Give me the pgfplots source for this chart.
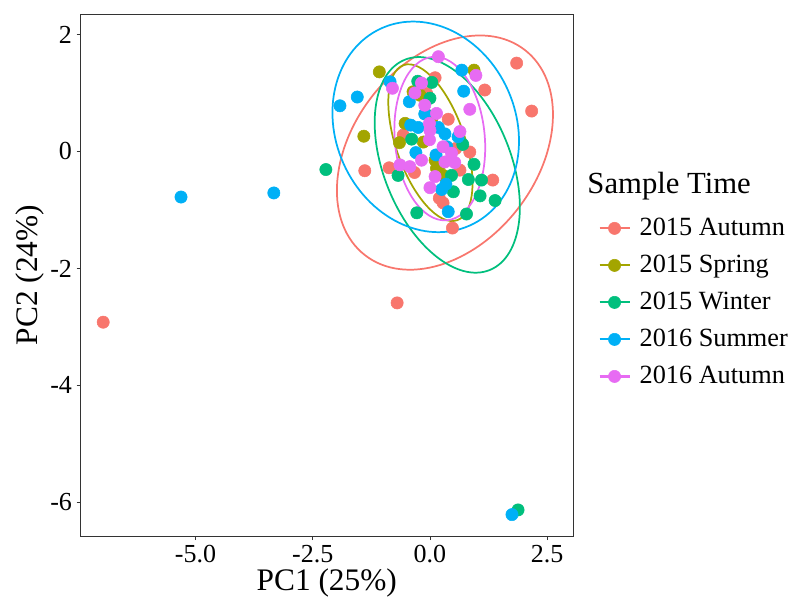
\documentclass[border=0pt]{standalone}
\usepackage{pgfplots}
\pgfplotsset{compat=1.18}
\usepackage{fontspec}
\setmainfont{Liberation Serif}
\definecolor{cA}{HTML}{F8766D}
\definecolor{cB}{HTML}{A3A500}
\definecolor{cC}{HTML}{00BF7D}
\definecolor{cD}{HTML}{00B0F6}
\definecolor{cE}{HTML}{E76BF3}
\begin{document}
\begin{tikzpicture}
\begin{axis}[
  scale only axis, width=369pt, height=391.5pt,
  xmin=-7.45, xmax=3.05, ymin=-6.58, ymax=2.35,
  xtick={-5,-2.5,0,2.5}, xticklabels={-5.0,-2.5,0.0,2.5},
  ytick={-6,-4,-2,0,2}, yticklabels={-6,-4,-2,0,2},
  tick label style={font=\fontsize{19.5}{22}\selectfont, black},
  tick align=outside, tick pos=left, major tick length=3pt,
  every tick/.style={black!80, line width=0.6pt},
  axis line style={black!80, line width=0.6pt},
  xlabel={PC1 (25\%)}, ylabel={PC2 (24\%)},
  label style={font=\fontsize{23.5}{26}\selectfont},
  xlabel style={yshift=2pt}, ylabel style={yshift=-2pt},
  legend style={at={(rel axis cs:1.0514,0.613)}, anchor=north west, draw=none, fill=none,
    inner sep=0pt, row sep=9.75pt, font=\fontsize{19.7}{22}\selectfont,
    nodes={inner sep=0pt, text height=14pt, text depth=4pt}},
  legend cell align=left,
  /tikz/every odd column/.append style={column sep=6.75pt},
]
\addplot[only marks, mark=*, mark size=4.6pt, color=cA, mark options={draw=none, fill=cA},
  legend image code/.code={\draw[cA, line width=1.6pt] (0pt,0pt) -- (22.5pt,0pt); \fill[cA] (11.25pt,0pt) circle (4.6pt);}]
table {
-6.97 -2.92
-0.70 -2.59
1.85 1.51
2.17 0.69
1.17 1.05
0.11 1.26
0.39 0.55
-0.57 0.28
-1.39 -0.33
-0.87 -0.28
-0.33 -0.36
0.85 -0.01
0.64 -0.32
1.34 -0.49
0.28 -0.88
0.48 -1.31
-0.07 0.99
0.20 -0.80
0.55 0.05
};
\addlegendentry{2015 Autumn}
\addplot[only marks, mark=*, mark size=4.6pt, color=cB, mark options={draw=none, fill=cB},
  legend image code/.code={\draw[cB, line width=1.6pt] (0pt,0pt) -- (22.5pt,0pt); \fill[cB] (11.25pt,0pt) circle (4.6pt);}]
table {
-1.08 1.36
0.94 1.39
-1.41 0.26
-0.65 0.15
-0.53 0.48
-0.21 0.96
-0.36 1.02
-0.14 0.16
0.11 -0.15
0.14 -0.29
0.28 -0.41
0.04 0.56
0.22 -0.22
};
\addlegendentry{2015 Spring}
\addplot[only marks, mark=*, mark size=4.6pt, color=cC, mark options={draw=none, fill=cC},
  legend image code/.code={\draw[cC, line width=1.6pt] (0pt,0pt) -- (22.5pt,0pt); \fill[cC] (11.25pt,0pt) circle (4.6pt);}]
table {
-2.22 -0.31
1.88 -6.13
-0.26 1.20
0.04 1.18
0.00 0.91
-0.39 0.21
0.70 0.12
0.94 -0.22
-0.68 -0.41
0.46 -0.41
0.82 -0.48
1.10 -0.49
0.50 -0.69
1.07 -0.76
1.39 -0.84
-0.28 -1.05
0.78 -1.07
-0.10 0.65
};
\addlegendentry{2015 Winter}
\addplot[only marks, mark=*, mark size=4.6pt, color=cD, mark options={draw=none, fill=cD},
  legend image code/.code={\draw[cD, line width=1.6pt] (0pt,0pt) -- (22.5pt,0pt); \fill[cD] (11.25pt,0pt) circle (4.6pt);}]
table {
-5.31 -0.78
-3.33 -0.71
1.75 -6.21
-1.92 0.78
-1.55 0.93
-0.85 1.19
0.68 1.39
0.72 1.03
-0.44 0.85
-0.11 0.64
-0.41 0.45
-0.25 0.41
0.18 0.41
0.32 0.30
0.60 0.25
-0.30 -0.02
0.13 -0.06
0.34 -0.56
0.25 -0.65
0.39 -1.03
0.36 0.08
};
\addlegendentry{2016 Summer}
\addplot[only marks, mark=*, mark size=4.6pt, color=cE, mark options={draw=none, fill=cE},
  legend image code/.code={\draw[cE, line width=1.6pt] (0pt,0pt) -- (22.5pt,0pt); \fill[cE] (11.25pt,0pt) circle (4.6pt);}]
table {
0.18 1.62
0.98 1.30
-0.80 1.08
-0.18 1.17
-0.32 1.00
-0.11 0.79
0.85 0.72
0.14 0.65
-0.01 0.48
0.00 0.36
-0.01 0.20
0.64 0.34
0.28 0.08
0.46 -0.03
0.32 -0.18
0.53 -0.19
-0.43 -0.26
-0.18 -0.15
0.11 -0.43
0.00 -0.62
-0.64 -0.23
};
\addlegendentry{2016 Autumn}
% 95% ellipses
\draw[cA, line width=1.3pt, rotate around={52:(axis cs:0.32,-0.02)}] (axis cs:0.32,-0.02) ellipse [x radius=97.5pt, y radius=69pt];
\draw[cB, line width=1.3pt, rotate around={-71:(axis cs:0.01,0.15)}] (axis cs:0.01,0.15) ellipse [x radius=61.5pt, y radius=25.8pt];
\draw[cC, line width=1.3pt, rotate around={-68:(axis cs:0.37,-0.23)}] (axis cs:0.37,-0.23) ellipse [x radius=85pt, y radius=47.6pt];
\draw[cD, line width=1.3pt, rotate around={114:(axis cs:-0.09,0.42)}] (axis cs:-0.09,0.42) ellipse [x radius=81pt, y radius=67.5pt];
\draw[cE, line width=1.3pt, rotate around={95:(axis cs:0.21,0.22)}] (axis cs:0.21,0.22) ellipse [x radius=61.5pt, y radius=33.75pt];
\coordinate (bl) at (rel axis cs:0,0);
\coordinate (tr) at (rel axis cs:1,1);
\coordinate (ttl) at (rel axis cs:1.029,0.657);
\end{axis}
\node[anchor=base west, font=\fontsize{23}{26}\selectfont, inner sep=0pt] at (ttl) {Sample Time};
\path (bl) ++(-60.5pt,-47.25pt) coordinate (p1);
\path (tr) ++(162.75pt,10.5pt) coordinate (p2);
\end{tikzpicture}
\end{document}
